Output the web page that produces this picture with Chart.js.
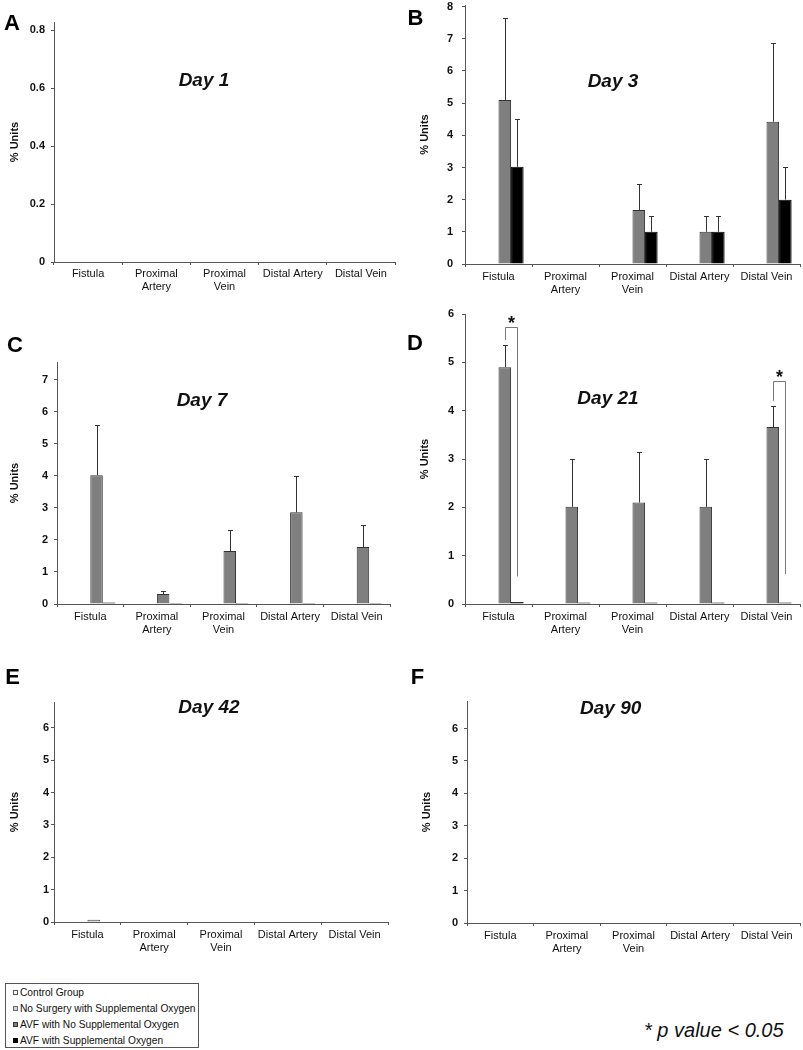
<!DOCTYPE html>
<html>
<head>
<meta charset="utf-8">
<script src="https://cdn.jsdelivr.net/npm/chart.js@4.4.1/dist/chart.umd.min.js"></script>
<style>
html,body{margin:0;padding:0;background:#fff;}
#page{position:relative;width:803px;height:1050px;overflow:hidden;font-family:"Liberation Sans",Arial,sans-serif;color:#000;}
canvas{position:absolute;}
.lbl{position:absolute;font-weight:bold;font-size:22px;line-height:22px;transform:translate(-50%,-50%);white-space:nowrap;}
.ttl{position:absolute;font-weight:bold;font-style:italic;font-size:19px;line-height:19px;transform:translate(-50%,-50%);white-space:nowrap;color:#111;}
#legend{position:absolute;left:5px;top:983px;width:194px;height:65px;border:1px solid #555;box-sizing:border-box;}
.li{position:absolute;left:7px;height:12px;line-height:12px;font-size:10.2px;white-space:nowrap;transform:translateY(-50%);color:#111;}
.sw{display:inline-block;width:5px;height:5px;margin-right:2px;vertical-align:1px;box-sizing:border-box;}
#note{position:absolute;left:644px;top:1030px;transform:translateY(-50%);font-style:italic;font-size:20px;line-height:20px;white-space:nowrap;color:#111;}
</style>
</head>
<body>
<div id="page"></div>
<script>
// ---------- DATA ----------
const categories = ['Fistula', ['Proximal', 'Artery'], ['Proximal', 'Vein'], 'Distal Artery', 'Distal Vein'];
const seriesNames = ['Control Group', 'No Surgery with Supplemental Oxygen', 'AVF with No Supplemental Oxygen', 'AVF with Supplemental Oxygen'];
const panelLetters = ['A', 'B', 'C', 'D', 'E', 'F'];
const dayTitles = ['Day 1', 'Day 3', 'Day 7', 'Day 21', 'Day 42', 'Day 90'];
const yAxisTitle = '% Units';
const yMax = [0.828, 8.05, 7.55, 6, 6.8, 6.85];
const yStep = [0.2, 1, 1, 1, 1, 1];
const yTickCount = [5, 9, 8, 7, 7, 7];
const noteText = '* p value < 0.05';
const sigMark = '*';

const controlGroup = [null, null, null, null, null];
const noSurgeryO2 = [null, null, null, null, null];

const day1AvfNoO2 = [null, null, null, null, null];
const day1AvfO2 = [null, null, null, null, null];

const day3AvfNoO2 = [5.1, null, 1.68, 1.0, 4.42];
const day3AvfNoO2Err = [2.54, null, 0.8, 0.5, 2.46];
const day3AvfO2 = [3.02, null, 1.0, 1.0, 2.0];
const day3AvfO2Err = [1.48, null, 0.5, 0.5, 1.0];

const day7AvfNoO2 = [4.02, 0.31, 1.65, 2.86, 1.78];
const day7AvfNoO2Err = [1.58, 0.11, 0.65, 1.12, 0.7];
const day7AvfO2 = [0.05, 0.03, 0.03, 0.03, 0.03];

const day21AvfNoO2 = [4.9, 2.01, 2.1, 2.01, 3.66];
const day21AvfNoO2Err = [0.46, 0.98, 1.05, 0.98, 0.44];
const day21AvfO2 = [0.04, 0.03, 0.03, 0.03, 0.03];

const day42AvfNoO2 = [0.07, null, null, null, null];
const day42AvfO2 = [null, null, null, null, null];

const day90AvfNoO2 = [null, null, null, null, null];
const day90AvfO2 = [null, null, null, null, null];

// significance brackets (Day 21): category index, bracket top value, right-leg bottom value
const day21SigIndex = [0, 4];
const day21SigTop = [5.73, 4.62];
const day21SigRightBottom = [0.57, 0.62];

// ---------- STYLE / LAYOUT ----------
const seriesFill = ['#ffffff', '#d6d6d6', '#7f7f7f', '#000000'];
const seriesBorder = ['#555555', '#666666', '#333333', '#000000'];

const panelValues = [
  [controlGroup, noSurgeryO2, day1AvfNoO2, day1AvfO2],
  [controlGroup, noSurgeryO2, day3AvfNoO2, day3AvfO2],
  [controlGroup, noSurgeryO2, day7AvfNoO2, day7AvfO2],
  [controlGroup, noSurgeryO2, day21AvfNoO2, day21AvfO2],
  [controlGroup, noSurgeryO2, day42AvfNoO2, day42AvfO2],
  [controlGroup, noSurgeryO2, day90AvfNoO2, day90AvfO2]
];
const panelErrors = [
  [null, null, null, null],
  [null, null, day3AvfNoO2Err, day3AvfO2Err],
  [null, null, day7AvfNoO2Err, null],
  [null, null, day21AvfNoO2Err, null],
  [null, null, null, null],
  [null, null, null, null]
];
const panelSig = [[], [], [],
  day21SigIndex.map((idx, k) => ({index: idx, top: day21SigTop[k], rightBottom: day21SigRightBottom[k]})),
  [], []];

const layouts = [
  {L: 0,   T: 0,   W: 400, H: 300, axisX: 54, top: 22,  zero: 262, xEnd: 395, tickPad: 6, xPad: 2, titlePad: 8},
  {L: 400, T: 0,   W: 403, H: 300, axisX: 465, top: 5,  zero: 264, xEnd: 800, tickPad: 9, xPad: 3, titlePad: 18},
  {L: 0,   T: 340, W: 400, H: 305, axisX: 57, top: 362, zero: 604, xEnd: 390, tickPad: 6, xPad: 3, titlePad: 8},
  {L: 400, T: 300, W: 403, H: 345, axisX: 465, top: 314, zero: 604, xEnd: 800, tickPad: 8, xPad: 3, titlePad: 18},
  {L: 0,   T: 690, W: 400, H: 270, axisX: 54, top: 702, zero: 922, xEnd: 388, tickPad: 2, xPad: 3, titlePad: 8},
  {L: 400, T: 690, W: 403, H: 270, axisX: 467, top: 701, zero: 923, xEnd: 800, tickPad: 6, xPad: 3, titlePad: 20}
];
const letterPos = [[12, 22.5], [415.5, 17.5], [15, 345], [415, 343], [12.5, 676.5], [417.5, 677]];
const titlePos = [[204, 79], [613, 79.5], [202, 399], [608, 397], [209, 705.5], [610.7, 707]];

Chart.defaults.font.family = '"Liberation Sans", Arial, sans-serif';
Chart.defaults.color = '#111';

const errorBarsPlugin = {
  id: 'errorBars',
  afterDatasetsDraw(chart) {
    const ctx = chart.ctx, ys = chart.scales.y;
    ctx.save();
    ctx.strokeStyle = '#333';
    ctx.lineWidth = 1;
    chart.data.datasets.forEach((ds, di) => {
      if (!ds.errors) return;
      const meta = chart.getDatasetMeta(di);
      meta.data.forEach((bar, i) => {
        const v = ds.data[i], e = ds.errors[i];
        if (v == null || e == null) return;
        const x = Math.round(bar.x) + 0.5;
        const yTop = Math.round(ys.getPixelForValue(v + e)) + 0.5;
        ctx.beginPath();
        ctx.moveTo(x, bar.y);
        ctx.lineTo(x, yTop);
        ctx.moveTo(x - 2.5, yTop);
        ctx.lineTo(x + 2.5, yTop);
        ctx.stroke();
      });
    });
    ctx.restore();
  }
};

const bracketsPlugin = {
  id: 'sigBrackets',
  afterDatasetsDraw(chart, args, opts) {
    const items = (opts && opts.items) || [];
    if (!items.length) return;
    const ctx = chart.ctx, ys = chart.scales.y;
    const dsNo = chart.data.datasets[2], errNo = dsNo.errors;
    const metaNo = chart.getDatasetMeta(2), metaO2 = chart.getDatasetMeta(3);
    ctx.save();
    ctx.strokeStyle = '#777';
    ctx.lineWidth = 1;
    items.forEach(it => {
      const xl = Math.round(metaNo.data[it.index].x) + 0.5;
      const xr = Math.round(metaO2.data[it.index].x) + 0.5;
      const yt = Math.round(ys.getPixelForValue(it.top)) + 0.5;
      const capVal = dsNo.data[it.index] + (errNo ? errNo[it.index] : 0);
      const yl = ys.getPixelForValue(capVal) - 5;
      const yr = ys.getPixelForValue(it.rightBottom);
      ctx.beginPath();
      ctx.moveTo(xl, yl);
      ctx.lineTo(xl, yt);
      ctx.lineTo(xr, yt);
      ctx.lineTo(xr, yr);
      ctx.stroke();
      ctx.fillStyle = '#111';
      ctx.font = 'bold 18px "Liberation Sans", Arial, sans-serif';
      ctx.textAlign = 'center';
      ctx.textBaseline = 'alphabetic';
      ctx.fillText(sigMark, (xl + xr) / 2, yt + 1);
    });
    ctx.restore();
  }
};

const page = document.getElementById('page');

function makeChart(i) {
  const lay = layouts[i];
  const cv = document.createElement('canvas');
  cv.width = lay.W; cv.height = lay.H;
  cv.style.left = lay.L + 'px'; cv.style.top = lay.T + 'px';
  cv.style.width = lay.W + 'px'; cv.style.height = lay.H + 'px';
  page.appendChild(cv);
  const datasets = seriesNames.map((name, s) => ({
    label: name,
    data: panelValues[i][s],
    errors: panelErrors[i][s],
    backgroundColor: seriesFill[s],
    borderColor: seriesBorder[s],
    borderWidth: 1,
    categoryPercentage: 0.75,
    barPercentage: 1.0
  }));
  const step = yStep[i];
  new Chart(cv, {
    type: 'bar',
    data: {labels: categories, datasets: datasets},
    options: {
      responsive: false,
      animation: false,
      devicePixelRatio: 1,
      events: [],
      layout: {padding: {left: 0, top: lay.top - lay.T, right: lay.L + lay.W - lay.xEnd, bottom: 0}},
      plugins: {
        legend: {display: false},
        tooltip: {enabled: false},
        title: {display: false},
        sigBrackets: {items: panelSig[i]}
      },
      scales: {
        x: {
          grid: {display: true, drawOnChartArea: false, drawTicks: true, tickLength: 3, color: '#555', offset: true},
          border: {display: true, color: '#555', width: 1},
          ticks: {color: '#111', font: {size: 11}, padding: lay.xPad, maxRotation: 0, minRotation: 0, autoSkip: false},
          afterFit(s) { s.height = lay.T + lay.H - lay.zero; s.paddingLeft = 0; s.paddingRight = 0; }
        },
        y: {
          min: 0,
          max: yMax[i],
          grid: {display: true, drawOnChartArea: false, drawTicks: true, tickLength: 3, color: '#555'},
          border: {display: true, color: '#555', width: 1},
          ticks: {
            stepSize: step, color: '#111', font: {size: 11, weight: 'bold'}, padding: lay.tickPad,
            callback: (v) => String(Math.round(v * 10) / 10)
          },
          afterBuildTicks(s) {
            s.ticks = Array.from({length: yTickCount[i]}, (_, k) => ({value: Math.round(k * step * 10) / 10}));
          },
          title: {display: true, text: yAxisTitle, color: '#111', font: {size: 11, weight: 'bold'}, padding: {top: lay.titlePad, bottom: 0}},
          afterFit(s) { s.width = lay.axisX - lay.L; s.paddingTop = 0; s.paddingBottom = 0; }
        }
      }
    },
    plugins: [errorBarsPlugin, bracketsPlugin]
  });

  const l = document.createElement('div');
  l.className = 'lbl';
  l.textContent = panelLetters[i];
  l.style.left = letterPos[i][0] + 'px'; l.style.top = letterPos[i][1] + 'px';
  page.appendChild(l);

  const t = document.createElement('div');
  t.className = 'ttl';
  t.textContent = dayTitles[i];
  t.style.left = titlePos[i][0] + 'px'; t.style.top = titlePos[i][1] + 'px';
  page.appendChild(t);
}

for (let i = 0; i < 6; i++) makeChart(i);

// legend
const legend = document.createElement('div');
legend.id = 'legend';
seriesNames.forEach((name, s) => {
  const row = document.createElement('div');
  row.className = 'li';
  row.style.top = (9.3 + s * 15.8) + 'px';
  const sw = document.createElement('span');
  sw.className = 'sw';
  sw.style.background = seriesFill[s];
  sw.style.border = '1px solid ' + seriesBorder[s];
  row.appendChild(sw);
  row.appendChild(document.createTextNode(name));
  legend.appendChild(row);
});
page.appendChild(legend);

const note = document.createElement('div');
note.id = 'note';
note.textContent = noteText;
page.appendChild(note);
</script>
</body>
</html>
